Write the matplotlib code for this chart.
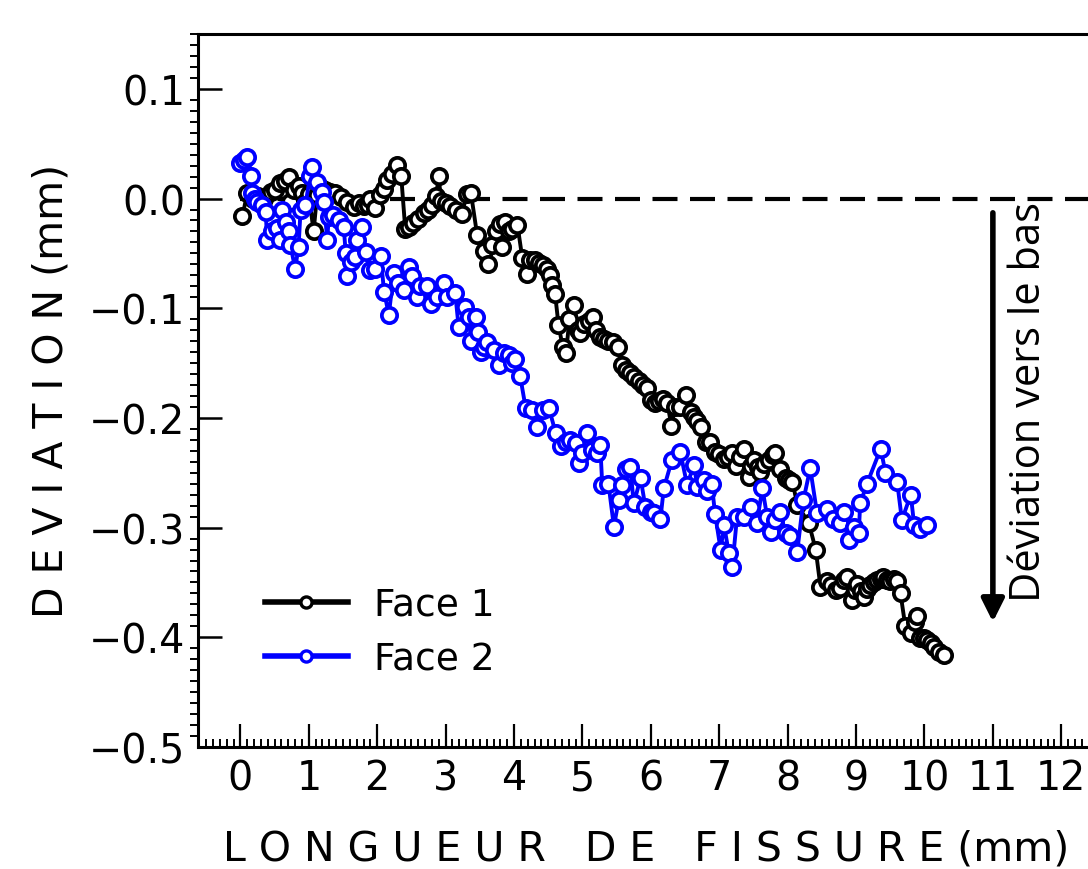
import matplotlib
matplotlib.use("Agg")
import matplotlib.pyplot as plt
from matplotlib.lines import Line2D
from matplotlib.ticker import MultipleLocator

# ---------------- data ----------------
face1_x = [0.03, 0.10, 0.18, 0.26, 0.35, 0.44, 0.51, 0.58, 0.65, 0.71, 0.73, 0.79, 0.85, 0.90,
           0.95, 1.00, 1.07, 1.12, 1.18, 1.24, 1.31, 1.39, 1.47, 1.56, 1.66, 1.74, 1.80, 1.86,
           1.90, 1.97, 2.04, 2.10, 2.14, 2.22, 2.29, 2.35, 2.41, 2.47, 2.53, 2.60, 2.68, 2.74,
           2.80, 2.86, 2.90, 2.93, 3.00, 3.07, 3.15, 3.24, 3.31, 3.37, 3.46, 3.56, 3.62, 3.68,
           3.73, 3.80, 3.82, 3.87, 3.92, 3.97, 4.05, 4.12, 4.19, 4.24, 4.31, 4.36, 4.42, 4.48,
           4.53, 4.56, 4.60, 4.65, 4.71, 4.76, 4.81, 4.88, 4.93, 4.97, 5.03, 5.10, 5.16, 5.20,
           5.25, 5.31, 5.38, 5.45, 5.52, 5.58, 5.64, 5.70, 5.76, 5.82, 5.88, 5.95, 6.00, 6.06,
           6.12, 6.18, 6.24, 6.30, 6.36, 6.42, 6.52, 6.58, 6.63, 6.68, 6.73, 6.80, 6.87, 6.94,
           7.00, 7.07, 7.13, 7.19, 7.24, 7.30, 7.36, 7.43, 7.47, 7.51, 7.56, 7.60, 7.66, 7.72,
           7.78, 7.82, 7.89, 7.97, 8.02, 8.07, 8.14, 8.31, 8.41, 8.48, 8.58, 8.64, 8.70, 8.77,
           8.83, 8.87, 8.94, 8.98, 9.02, 9.07, 9.11, 9.16, 9.21, 9.26, 9.31, 9.36, 9.40, 9.45,
           9.50, 9.55, 9.60, 9.65, 9.72, 9.80, 9.86, 9.89, 9.94, 9.99, 10.04, 10.09, 10.14,
           10.21, 10.28]
face1_y = [-0.016, 0.005, 0.000, 0.002, 0.000, 0.006, 0.008, 0.014, 0.016, 0.020, -0.003, 0.008,
           0.011, 0.005, -0.003, 0.004, -0.030, 0.003, 0.010, 0.008, 0.006, 0.005, 0.001, -0.003,
           -0.008, -0.004, -0.007, -0.006, 0.000, -0.009, 0.003, 0.009, 0.017, 0.022, 0.031,
           0.021, -0.028, -0.026, -0.022, -0.019, -0.013, -0.010, -0.006, 0.002, 0.021, -0.002,
           -0.004, -0.007, -0.010, -0.014, 0.004, 0.005, -0.033, -0.048, -0.060, -0.042, -0.030,
           -0.023, -0.044, -0.021, -0.030, -0.028, -0.024, -0.054, -0.069, -0.056, -0.056,
           -0.059, -0.061, -0.064, -0.070, -0.079, -0.087, -0.115, -0.135, -0.141, -0.110,
           -0.097, -0.120, -0.123, -0.114, -0.112, -0.108, -0.120, -0.126, -0.128, -0.130,
           -0.131, -0.135, -0.152, -0.156, -0.159, -0.163, -0.166, -0.170, -0.173, -0.184,
           -0.186, -0.185, -0.183, -0.186, -0.207, -0.190, -0.190, -0.179, -0.195, -0.199,
           -0.203, -0.208, -0.222, -0.222, -0.231, -0.233, -0.237, -0.236, -0.232, -0.244,
           -0.236, -0.228, -0.254, -0.244, -0.238, -0.245, -0.249, -0.242, -0.238, -0.234,
           -0.232, -0.247, -0.255, -0.257, -0.258, -0.279, -0.296, -0.320, -0.354, -0.349,
           -0.352, -0.357, -0.355, -0.348, -0.345, -0.366, -0.357, -0.351, -0.358, -0.363,
           -0.356, -0.352, -0.350, -0.348, -0.347, -0.345, -0.348, -0.349, -0.347, -0.349,
           -0.360, -0.390, -0.396, -0.386, -0.381, -0.401, -0.401, -0.402, -0.405, -0.409,
           -0.413, -0.416]

face2_x = [-0.01, 0.05, 0.10, 0.15, 0.17, 0.21, 0.24, 0.32, 0.37, 0.39, 0.46, 0.54, 0.58, 0.61,
           0.66, 0.71, 0.73, 0.80, 0.85, 0.88, 0.95, 1.02, 1.05, 1.12, 1.19, 1.22, 1.27, 1.29,
           1.36, 1.44, 1.51, 1.54, 1.56, 1.61, 1.68, 1.71, 1.78, 1.83, 1.90, 1.97, 2.05, 2.10,
           2.17, 2.24, 2.31, 2.39, 2.46, 2.51, 2.58, 2.63, 2.73, 2.78, 2.88, 2.97, 3.02, 3.14,
           3.19, 3.29, 3.34, 3.37, 3.44, 3.47, 3.51, 3.56, 3.61, 3.70, 3.78, 3.85, 3.92, 3.97,
           4.02, 4.09, 4.17, 4.26, 4.34, 4.43, 4.51, 4.61, 4.68, 4.76, 4.82, 4.90, 4.95, 5.00,
           5.07, 5.14, 5.21, 5.26, 5.29, 5.38, 5.46, 5.53, 5.58, 5.63, 5.70, 5.75, 5.85, 5.92,
           6.00, 6.04, 6.14, 6.19, 6.31, 6.43, 6.53, 6.63, 6.68, 6.77, 6.82, 6.89, 6.94, 7.02,
           7.07, 7.14, 7.19, 7.26, 7.36, 7.46, 7.55, 7.63, 7.70, 7.75, 7.82, 7.89, 7.97, 8.04,
           8.14, 8.23, 8.33, 8.43, 8.58, 8.67, 8.77, 8.82, 8.89, 8.97, 9.04, 9.06, 9.16, 9.36,
           9.43, 9.60, 9.67, 9.80, 9.85, 9.94, 10.04]
face2_y = [0.032, 0.035, 0.038, 0.021, 0.005, 0.000, -0.003, -0.006, -0.012, -0.038, -0.030,
           -0.027, -0.038, -0.010, -0.021, -0.030, -0.042, -0.064, -0.044, -0.010, -0.006,
           0.021, 0.029, 0.015, 0.006, -0.003, -0.038, -0.017, -0.015, -0.020, -0.026, -0.050,
           -0.071, -0.058, -0.053, -0.038, -0.026, -0.049, -0.065, -0.064, -0.052, -0.085,
           -0.106, -0.068, -0.077, -0.083, -0.062, -0.071, -0.090, -0.080, -0.080, -0.096,
           -0.090, -0.077, -0.090, -0.086, -0.117, -0.099, -0.108, -0.130, -0.108, -0.122,
           -0.140, -0.135, -0.131, -0.138, -0.152, -0.141, -0.143, -0.150, -0.146, -0.162,
           -0.191, -0.193, -0.208, -0.193, -0.191, -0.214, -0.226, -0.222, -0.220, -0.223,
           -0.241, -0.232, -0.214, -0.229, -0.232, -0.225, -0.261, -0.260, -0.299, -0.275,
           -0.261, -0.247, -0.245, -0.278, -0.255, -0.281, -0.286, -0.287, -0.292, -0.264,
           -0.238, -0.231, -0.261, -0.243, -0.263, -0.257, -0.267, -0.260, -0.288, -0.320,
           -0.298, -0.323, -0.336, -0.290, -0.290, -0.281, -0.296, -0.264, -0.290, -0.304,
           -0.293, -0.286, -0.305, -0.308, -0.322, -0.275, -0.246, -0.287, -0.283, -0.292,
           -0.296, -0.286, -0.311, -0.299, -0.305, -0.278, -0.260, -0.228, -0.250, -0.258,
           -0.293, -0.270, -0.298, -0.301, -0.298]

series_labels = ["Face 1", "Face 2"]
series_colors = ["black", "#0000ff"]
x_ticks = list(range(0, 13))
y_ticks = [-0.5, -0.4, -0.3, -0.2, -0.1, 0.0, 0.1]
xlabel = "L O N G U E U R   D E   F I S S U R E (mm)"
ylabel = "D E V I A T I O N (mm)"
arrow_text = "Déviation vers le bas"

# ---------------- figure ----------------
W, H = 1088, 870
fig = plt.figure(figsize=(W / 100, H / 100), dpi=100)
left_px, right_px, top_px, bottom_px = 198, 1116, 35, 748
ax = fig.add_axes([left_px / W, 1 - bottom_px / H, (right_px - left_px) / W, (bottom_px - top_px) / H])
ax.set_xlim(-0.62, 12.8)
ax.set_ylim(-0.5, 0.15)

ax.plot([0, 13], [0, 0], color="black", lw=3, dashes=(6, 3), zorder=1)

for xs, ys, c in [(face1_x, face1_y, series_colors[0]), (face2_x, face2_y, series_colors[1])]:
    ax.plot(xs, ys, color=c, lw=2.8, marker="o", markersize=11, markerfacecolor="white",
            markeredgecolor=c, markeredgewidth=2.7, zorder=3)

# arrow and annotation
ax.annotate("", xy=(11, -0.386), xytext=(11, -0.013),
            arrowprops=dict(arrowstyle="-|>", lw=4, color="black", mutation_scale=34,
                            shrinkA=0, shrinkB=0))
ax.text(11.53, -0.185, arrow_text, rotation=90, ha="center", va="center",
        fontsize=30, family="Open Sans")

# ticks
ax.set_xticks(x_ticks)
ax.set_yticks(y_ticks)
ax.xaxis.set_minor_locator(MultipleLocator(0.1))
ax.yaxis.set_minor_locator(MultipleLocator(0.01))
ax.tick_params(axis="x", which="major", direction="in", length=16.5, width=1.6,
               labelsize=28.5, pad=8, top=False)
ax.tick_params(axis="x", which="minor", direction="in", length=5.5, width=1.4, top=False)
ax.tick_params(axis="y", which="major", direction="in", length=17, width=1.8,
               labelsize=28.5, pad=9, right=False)
ax.tick_params(axis="y", which="minor", direction="out", length=5.5, width=1.4, right=False)
for s in ax.spines.values():
    s.set_linewidth(2.2)

ax.set_xlabel(xlabel, fontsize=29.5)
ax.xaxis.set_label_coords((646 - left_px) / (right_px - left_px), -(850 - bottom_px) / (bottom_px - top_px))
ax.xaxis.label.set_va("center")
ax.set_ylabel(ylabel, fontsize=29.5)
ax.yaxis.set_label_coords(-(198 - 52) / (right_px - left_px), (748 - 391) / (bottom_px - top_px))
ax.yaxis.label.set_va("center")

handles = [Line2D([], [], color=c, lw=4, marker="o", markersize=8, markerfacecolor="white",
                  markeredgecolor=c, markeredgewidth=2.4) for c in series_colors]
fig.legend(handles, series_labels, loc="center left",
           bbox_to_anchor=(265 / W, 1 - 633 / H), bbox_transform=fig.transFigure,
           frameon=False, fontsize=27, handlelength=2.2, handletextpad=0.7,
           labelspacing=0.5, borderpad=0, borderaxespad=0)

fig.savefig("out.png", dpi=100)
